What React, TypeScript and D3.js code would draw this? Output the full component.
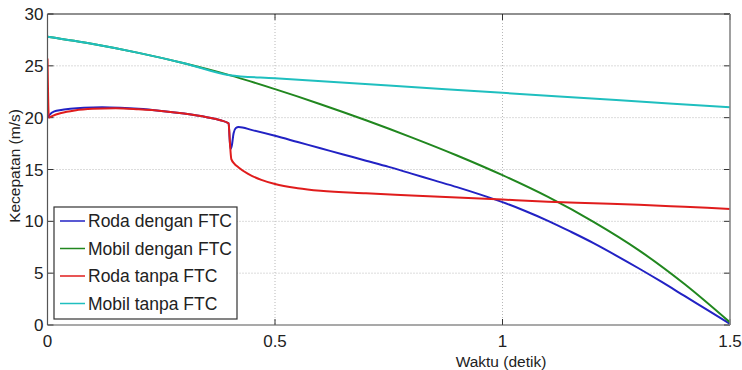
import React from "react";
import * as d3 from "d3";

const seriesNames = ["Roda dengan FTC", "Mobil dengan FTC", "Roda tanpa FTC", "Mobil tanpa FTC"];
const seriesColors = ["#2222c4", "#21871f", "#e01c1c", "#1fbfbf"];

const rodaFtcT = [0, 0.005, 0.015, 0.03, 0.05, 0.08, 0.12, 0.16, 0.2, 0.25, 0.3, 0.35, 0.38, 0.398, 0.402, 0.405, 0.409, 0.414, 0.42, 0.45, 0.5, 0.55, 0.6, 0.65, 0.7, 0.75, 0.8, 0.85, 0.9, 0.95, 1.0, 1.05, 1.1, 1.15, 1.2, 1.25, 1.3, 1.35, 1.4, 1.45, 1.5];
const rodaFtcV = [20.0, 20.3, 20.6, 20.75, 20.85, 20.95, 21.0, 20.95, 20.85, 20.65, 20.4, 20.05, 19.75, 19.45, 17.0, 17.3, 18.5, 19.0, 19.1, 18.8, 18.25, 17.65, 17.05, 16.45, 15.85, 15.25, 14.6, 13.95, 13.3, 12.6, 11.85, 11.0, 10.05, 9.0, 7.9, 6.7, 5.45, 4.15, 2.8, 1.45, 0.1];

const mobilFtcT = [0, 0.1, 0.2, 0.3, 0.4, 0.5, 0.6, 0.7, 0.8, 0.9, 1.0, 1.1, 1.2, 1.3, 1.4, 1.5];
const mobilFtcV = [27.8, 27.1, 26.25, 25.25, 24.1, 22.75, 21.3, 19.75, 18.1, 16.35, 14.45, 12.35, 9.95, 7.2, 3.95, 0.25];

const rodaTanpaT = [0, 0.003, 0.01, 0.03, 0.06, 0.1, 0.15, 0.2, 0.25, 0.3, 0.35, 0.38, 0.398, 0.401, 0.404, 0.41, 0.42, 0.44, 0.47, 0.5, 0.55, 0.6, 0.7, 0.8, 0.9, 1.0, 1.1, 1.2, 1.3, 1.4, 1.5];
const rodaTanpaV = [25.7, 20.0, 20.15, 20.45, 20.7, 20.85, 20.9, 20.8, 20.65, 20.4, 20.05, 19.75, 19.45, 17.5, 16.0, 15.6, 15.2, 14.6, 14.0, 13.6, 13.2, 12.95, 12.7, 12.5, 12.3, 12.1, 11.9, 11.75, 11.6, 11.4, 11.2];

const mobilTanpaT = [0, 0.1, 0.2, 0.3, 0.4, 0.5, 0.75, 1.0, 1.25, 1.5];
const mobilTanpaV = [27.8, 27.1, 26.25, 25.25, 24.1, 23.8, 23.1, 22.4, 21.7, 21.0];

const xTicks = [0, 0.5, 1, 1.5];
const xTickLabels = ["0", "0.5", "1", "1.5"];
const yTicks = [0, 5, 10, 15, 20, 25, 30];
const yTickLabels = ["0", "5", "10", "15", "20", "25", "30"];
const xTitle = "Waktu (detik)";
const yTitle = "Kecepatan (m/s)";

const W = 742, H = 370;
const L = 47.5, R = 730, T = 14, B = 325;
const FONT = "'Liberation Sans', Arial, sans-serif";

export default function App() {
  const x = d3.scaleLinear().domain([0, 1.5]).range([L, R]);
  const y = d3.scaleLinear().domain([0, 30]).range([B, T]);
  const line = d3.line<[number, number]>().x(d => x(d[0])).y(d => y(d[1])).curve(d3.curveMonotoneX);
  const series = [
    { t: rodaFtcT, v: rodaFtcV },
    { t: mobilFtcT, v: mobilFtcV },
    { t: rodaTanpaT, v: rodaTanpaV },
    { t: mobilTanpaT, v: mobilTanpaV },
  ];
  const legX = 54, legY = 207, legW = 183, legH = 112;
  const rowY = [221, 248.5, 276, 303.5];
  return (
    <div style={{ position: "absolute", left: 0, top: 0, margin: 0 }}>
      <svg width={W} height={H} style={{ display: "block", background: "#fff" }} fontFamily={FONT}>
        <defs>
          <clipPath id="plotclip">
            <rect x={L} y={T} width={R - L} height={B - T} />
          </clipPath>
        </defs>
        {yTicks.filter(v => v > 0 && v < 30).map(v => (
          <line key={"gy" + v} x1={L} x2={R} y1={y(v)} y2={y(v)} stroke="#b8b8b8" strokeWidth={1} strokeDasharray="1,2" />
        ))}
        {xTicks.filter(v => v > 0 && v < 1.5).map(v => (
          <line key={"gx" + v} x1={x(v)} x2={x(v)} y1={T} y2={B} stroke="#b8b8b8" strokeWidth={1} strokeDasharray="1,2" />
        ))}
        {yTicks.map(v => (
          <g key={"ty" + v}>
            <line x1={L} x2={L + 6} y1={y(v)} y2={y(v)} stroke="#333" />
            <line x1={R} x2={R - 6} y1={y(v)} y2={y(v)} stroke="#333" />
          </g>
        ))}
        {xTicks.map(v => (
          <g key={"tx" + v}>
            <line x1={x(v)} x2={x(v)} y1={B} y2={B - 6} stroke="#333" />
            <line x1={x(v)} x2={x(v)} y1={T} y2={T + 6} stroke="#333" />
          </g>
        ))}
        <g clipPath="url(#plotclip)">
          {series.map((s, i) => (
            <path key={i} d={line(s.t.map((t, k) => [t, s.v[k]] as [number, number])) || ""} fill="none" stroke={seriesColors[i]} strokeWidth={2} strokeLinejoin="round" />
          ))}
        </g>
        <line x1={L} x2={R} y1={T} y2={T} stroke="#222" strokeWidth={1.2} />
        <line x1={L} x2={L} y1={T} y2={B} stroke="#555" strokeWidth={1.2} />
        <line x1={L} x2={R} y1={B} y2={B} stroke="#555" strokeWidth={1.2} />
        <line x1={R} x2={R} y1={T} y2={B} stroke="#888" strokeWidth={1.6} />
        {yTicks.map((v, i) => (
          <text key={"ly" + v} x={L - 4} y={y(v)} dy="0.36em" textAnchor="end" fontSize={17} fill="#222">{yTickLabels[i]}</text>
        ))}
        {xTicks.map((v, i) => (
          <text key={"lx" + v} x={x(v)} y={347} textAnchor="middle" fontSize={17} fill="#222">{xTickLabels[i]}</text>
        ))}
        <text x={501} y={367} textAnchor="middle" fontSize={15.5} fill="#222">{xTitle}</text>
        <text transform={`translate(20,${166}) rotate(-90)`} textAnchor="middle" fontSize={15.5} fill="#222">{yTitle}</text>
        <rect x={legX} y={legY} width={legW} height={legH} fill="#fff" stroke="#333" strokeWidth={1.2} />
        {seriesNames.map((n, i) => (
          <g key={n}>
            <line x1={60} x2={85} y1={rowY[i]} y2={rowY[i]} stroke={seriesColors[i]} strokeWidth={1.5} />
            <text x={88} y={rowY[i]} dy="0.36em" fontSize={17.5} fill="#222">{n}</text>
          </g>
        ))}
      </svg>
    </div>
  );
}
